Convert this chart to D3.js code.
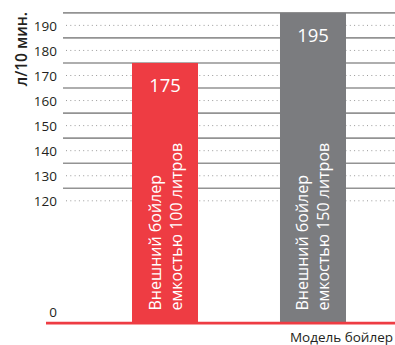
<!DOCTYPE html>
<html>
<head>
<meta charset="utf-8">
<script src="https://cdn.jsdelivr.net/npm/d3@7/dist/d3.min.js"></script>
<style>
  html, body { margin: 0; padding: 0; background: #fff; }
  svg { display: block; font-family: "Open Sans", "Noto Sans", sans-serif; }
</style>
</head>
<body>
<svg id="chart" width="395" height="345"></svg>
<script>
// Boiler models and their output, litres per 10 minutes
const categories = ["Внешний бойлер|емкостью 100 литров", "Внешний бойлер|емкостью 150 литров"];
const values = [175, 195];
const barColors = ["#ee3c43", "#7b7c7f"];
const tickValues = [0, 120, 130, 140, 150, 160, 170, 180, 190];
const minorLines = [125, 135, 145, 155, 165, 175, 185, 195];
const yTitle = "л/10 мин.";
const xTitle = "Модель бойлер";

const svg = d3.select("#chart");
const W = 395;

// Broken value axis: 0 sits at the base, 120–195 takes the stretched upper part
const y = d3.scaleLinear().domain([0, 120, 195]).range([322.5, 200.8, 12.85]);

const x = d3.scaleBand()
  .domain(categories)
  .range([132, 346])
  .paddingInner(0.554)
  .paddingOuter(0);

const grid = svg.append("g");

// dotted lines at labelled values
grid.selectAll("line.dot")
  .data(tickValues.filter(v => v > 0))
  .join("line")
  .attr("class", "dot")
  .attr("x1", 66).attr("x2", W)
  .attr("y1", d => y(d)).attr("y2", d => y(d))
  .attr("stroke", "#9a9a9a")
  .attr("stroke-width", 1)
  .attr("stroke-dasharray", "1,3.3");

// solid lines midway between labels
grid.selectAll("line.solid")
  .data(minorLines)
  .join("line")
  .attr("class", "solid")
  .attr("x1", 63).attr("x2", W)
  .attr("y1", d => y(d)).attr("y2", d => y(d))
  .attr("stroke", "#939393")
  .attr("stroke-width", 1.6);

// bars
const bars = svg.append("g").selectAll("g")
  .data(categories.map((c, i) => ({ c, v: values[i], color: barColors[i] })))
  .join("g");

bars.append("rect")
  .attr("x", d => x(d.c))
  .attr("width", x.bandwidth())
  .attr("y", d => y(d.v))
  .attr("height", d => y(0) - y(d.v))
  .attr("fill", d => d.color);

bars.append("text")
  .attr("x", d => x(d.c) + x.bandwidth() / 2)
  .attr("y", d => y(d.v) + 29.5)
  .attr("text-anchor", "middle")
  .attr("fill", "#fff")
  .attr("font-size", 18.5)
  .text(d => d.v);

// rotated two-line model names inside the bars
bars.each(function(d) {
  const lines = d.c.split("|");
  const cx = x(d.c) + x.bandwidth() / 2;
  const t = d3.select(this).append("text")
    .attr("transform", `translate(${cx},${y(0) - 12}) rotate(-90)`)
    .attr("fill", "#fff")
    .attr("font-size", 16)
    .attr("text-anchor", "start");
  lines.forEach((ln, i) => {
    t.append("tspan")
      .attr("x", 0)
      .attr("y", i === 0 ? -4.5 : 16.5)
      .text(ln);
  });
});

// value axis labels
const axis = d3.axisLeft(y).tickValues(tickValues).tickSize(0).tickPadding(3);
const ag = svg.append("g").attr("transform", "translate(60,0)").call(axis);
ag.select(".domain").remove();
ag.selectAll("text")
  .attr("font-family", "\"Open Sans\", sans-serif")
  .attr("font-size", 13.5)
  .attr("fill", "#231f20")
  .attr("dy", "0.36em");
ag.selectAll(".tick").filter(d => d === 0).select("text").attr("dy", "-0.45em");

// base line
svg.append("line")
  .attr("x1", 46).attr("x2", W)
  .attr("y1", y(0) + 0.6).attr("y2", y(0) + 0.6)
  .attr("stroke", "#ee3c43")
  .attr("stroke-width", 2.6);

// axis titles
svg.append("text")
  .attr("transform", "translate(27,12) rotate(-90)")
  .attr("text-anchor", "end")
  .attr("font-size", 15.5)
  .attr("font-weight", 600)
  .attr("fill", "#231f20")
  .text(yTitle);

svg.append("text")
  .attr("x", 393)
  .attr("y", 341.5)
  .attr("text-anchor", "end")
  .attr("font-size", 13.5)
  .attr("fill", "#231f20")
  .text(xTitle);
</script>
</body>
</html>
